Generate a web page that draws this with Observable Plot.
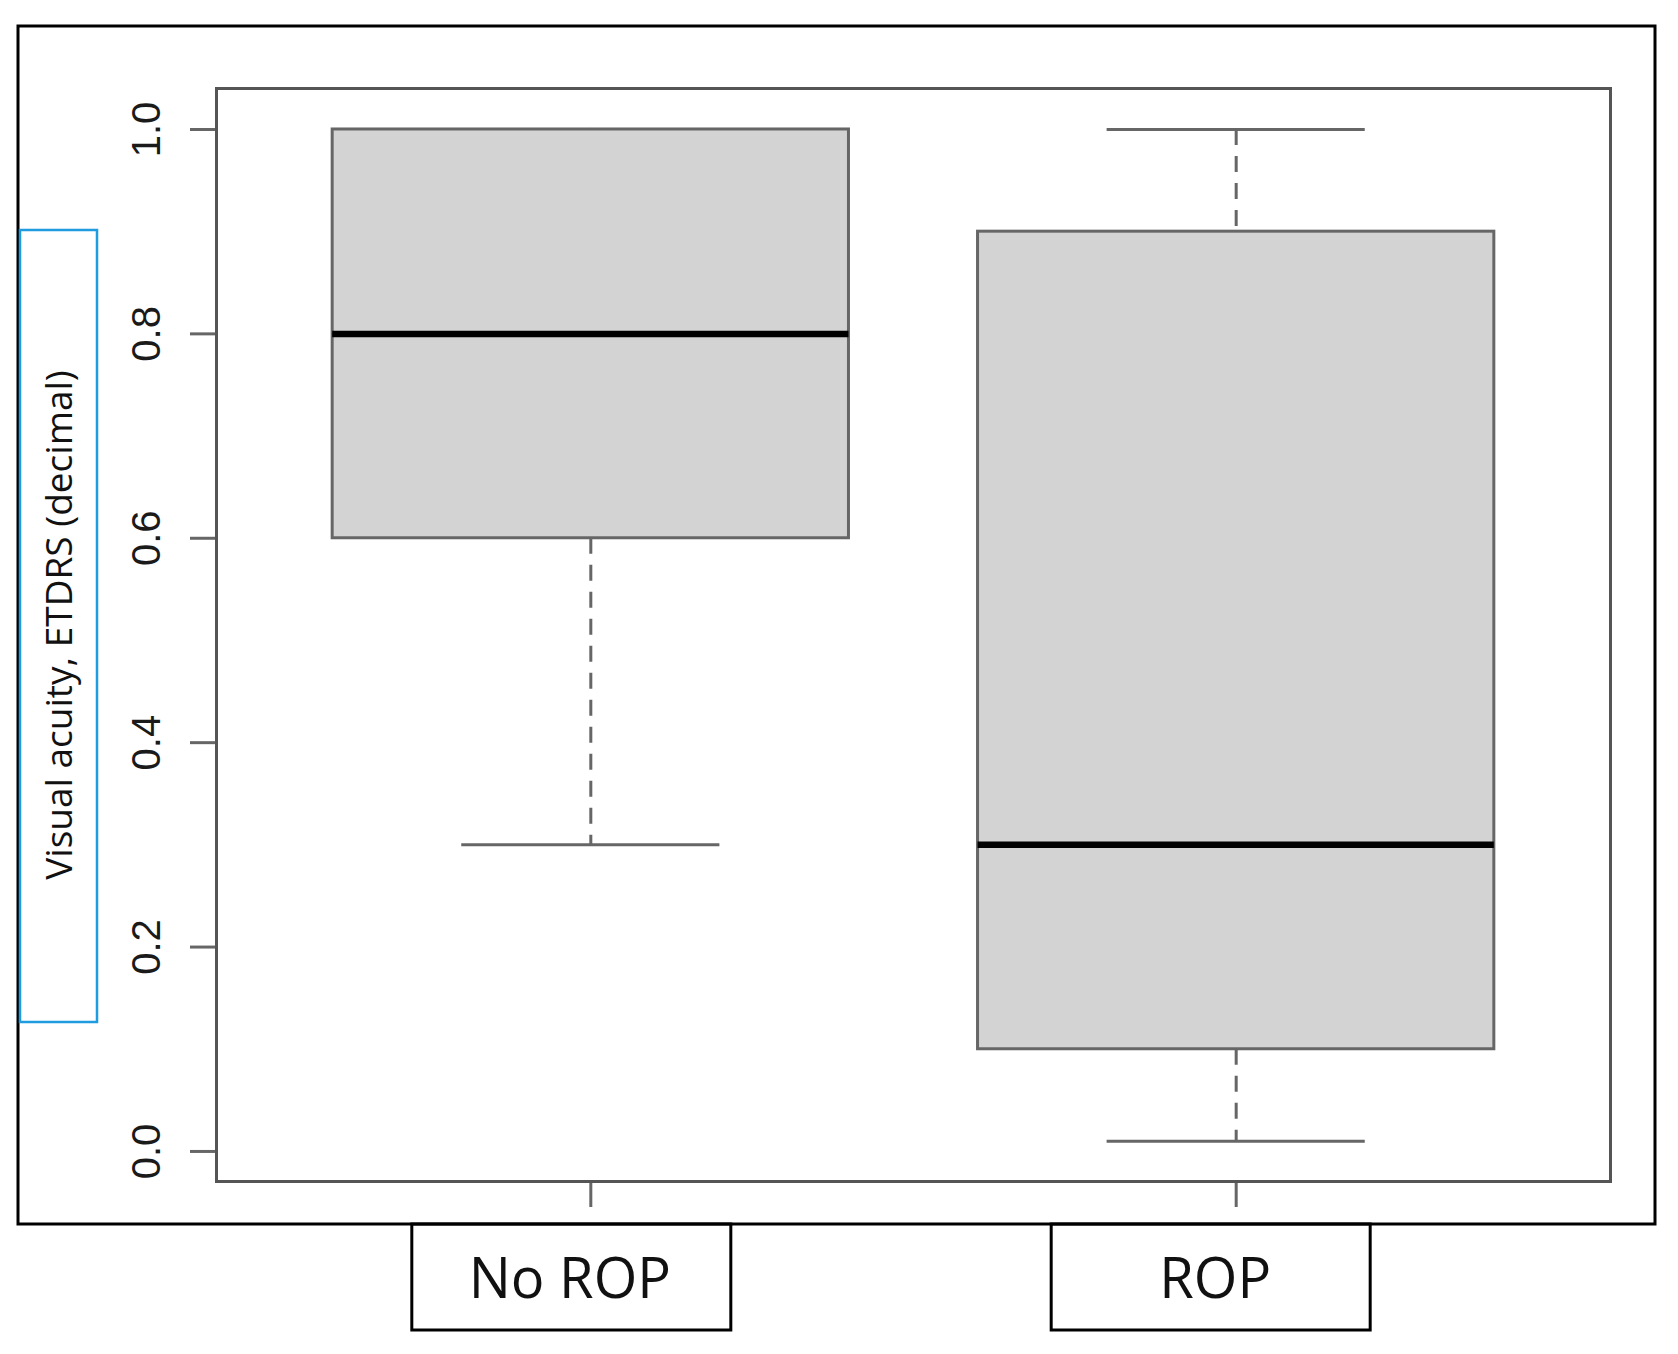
<!DOCTYPE html>
<html>
<head>
<meta charset="utf-8">
<script src="https://cdn.jsdelivr.net/npm/d3@7"></script>
<script src="https://cdn.jsdelivr.net/npm/@observablehq/plot@0.6"></script>
<style>
  html, body { margin: 0; padding: 0; background: #fff; }
  #chart svg { display: block; }
</style>
</head>
<body>
<div id="chart"></div>
<script>
// Five-number summaries of visual acuity per group
const groups = ["No ROP", "ROP"];
const positions = [1, 2];
const whiskerLow = [0.3, 0.01];
const quartileLow = [0.6, 0.1];
const medians = [0.8, 0.3];
const quartileHigh = [1.0, 0.9];
const whiskerHigh = [1.0, 1.0];
const yTicks = [0, 0.2, 0.4, 0.6, 0.8, 1.0];
const yTitle = "Visual acuity, ETDRS (decimal)";

const rows = groups.map((group, i) => ({
  group,
  pos: positions[i],
  lo: whiskerLow[i],
  q1: quartileLow[i],
  med: medians[i],
  q3: quartileHigh[i],
  hi: whiskerHigh[i]
}));

// Box and staple half-widths in x units (box width 0.8, staple half of it)
const BOX_HALF = 0.4;
const CAP_HALF = 0.2;
const GRAY = "#666";

const plot = Plot.plot({
  width: 1678,
  height: 1354,
  marginLeft: 216,
  marginRight: 68,
  marginTop: 88,
  marginBottom: 173,
  style: { background: "#fff", fontFamily: "'Liberation Sans', Arial, sans-serif", color: "#1a1a1a" },
  x: { domain: [0.42, 2.58], axis: null },
  y: { domain: [-0.0294, 1.0401], axis: null },
  marks: [
    // dashed whiskers
    Plot.ruleX(rows, { x: "pos", y1: "q1", y2: "lo", stroke: GRAY, strokeWidth: 3, strokeDasharray: "16,11" }),
    Plot.ruleX(rows, { x: "pos", y1: "hi", y2: "q3", stroke: GRAY, strokeWidth: 3, strokeDasharray: "16,11" }),
    // staples
    Plot.ruleY(rows, { y: "lo", x1: d => d.pos - CAP_HALF, x2: d => d.pos + CAP_HALF, stroke: GRAY, strokeWidth: 3 }),
    Plot.ruleY(rows, { y: "hi", x1: d => d.pos - CAP_HALF, x2: d => d.pos + CAP_HALF, stroke: GRAY, strokeWidth: 3 }),
    // interquartile boxes
    Plot.rect(rows, { x1: d => d.pos - BOX_HALF, x2: d => d.pos + BOX_HALF, y1: "q1", y2: "q3", fill: "#d3d3d3", stroke: GRAY, strokeWidth: 3 }),
    // medians
    Plot.ruleY(rows, { y: "med", x1: d => d.pos - BOX_HALF, x2: d => d.pos + BOX_HALF, stroke: "#000", strokeWidth: 6.5 }),
    // y axis: ticks with rotated labels
    Plot.axisY({
      ticks: yTicks, tickSize: 26, tickPadding: 31, tickRotate: -90,
      tickFormat: d => d.toFixed(1), fontSize: 40, label: null,
      stroke: GRAY, strokeWidth: 3
    }),
    // x axis ticks below the frame
    Plot.axisX({ ticks: positions, tickSize: 26, tickFormat: () => "", label: null, stroke: GRAY, strokeWidth: 3 }),
    // group names below the axis
    Plot.text(rows, {
      x: "pos", text: "group", frameAnchor: "bottom", lineAnchor: "bottom",
      dx: -21, dy: 116, fontSize: 56, fontFamily: "'Open Sans', sans-serif",
      fill: "#111", letterSpacing: -1
    }),
    // y axis title
    Plot.text([yTitle], {
      text: d => d, frameAnchor: "left", rotate: -90, lineAnchor: "bottom",
      textAnchor: "middle", dx: -145, dy: -10, fontSize: 37,
      fontFamily: "'Open Sans', sans-serif", fill: "#111"
    }),
    Plot.frame({ stroke: "#555", strokeWidth: 3 })
  ]
});

document.getElementById("chart").append(plot);

// Decorations: outer border, boxed group names, boxed axis title
const svg = d3.select(plot);
const xs = plot.scale("x");
const labelShift = { "No ROP": -19, "ROP": -25 };

svg.append("rect")
  .attr("x", 18).attr("y", 26).attr("width", 1655 - 18).attr("height", 1224 - 26)
  .attr("fill", "none").attr("stroke", "#000").attr("stroke-width", 3);

rows.forEach(d => {
  const cx = xs.apply(d.pos) + labelShift[d.group];
  svg.append("rect")
    .attr("x", cx - 159.5).attr("y", 1224).attr("width", 319).attr("height", 106)
    .attr("fill", "none").attr("stroke", "#000").attr("stroke-width", 3);
});

svg.append("rect")
  .attr("x", 20).attr("y", 230).attr("width", 77).attr("height", 792)
  .attr("fill", "none").attr("stroke", "#1f9be0").attr("stroke-width", 2.5);
</script>
</body>
</html>
